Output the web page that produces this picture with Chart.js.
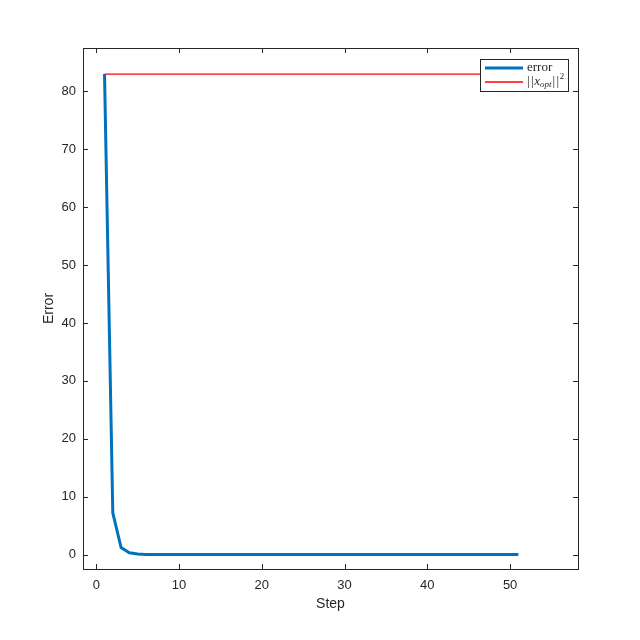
<!DOCTYPE html>
<html>
<head>
<meta charset="utf-8">
<script src="https://cdn.jsdelivr.net/npm/chart.js@4/dist/chart.umd.min.js"></script>
<style>
  html, body { margin: 0; padding: 0; background: #fff; }
  #wrap { width: 640px; height: 640px; }
</style>
</head>
<body>
<div id="wrap"><canvas id="c" width="640" height="640"></canvas></div>
<script>
const steps = [1, 2, 3, 4, 5, 6, 7, 8, 9, 10, 11, 12, 13, 14, 15, 16, 17, 18, 19, 20,
    21, 22, 23, 24, 25, 26, 27, 28, 29, 30, 31, 32, 33, 34, 35, 36, 37, 38, 39, 40,
    41, 42, 43, 44, 45, 46, 47, 48, 49, 50, 51]
const errorValues = [83.0, 7.2, 1.2, 0.3, 0.08, 0.02, 0.005, 0.001, 0, 0, 0, 0, 0, 0, 0, 0, 0, 0, 0, 0,
    0, 0, 0, 0, 0, 0, 0, 0, 0, 0, 0, 0, 0, 0, 0, 0, 0, 0, 0, 0,
    0, 0, 0, 0, 0, 0, 0, 0, 0, 0, 0]
const refSteps = [1, 51]
const refValues = [83.0, 83.0]
const xTicks = [0, 10, 20, 30, 40, 50]
const yTicks = [0, 10, 20, 30, 40, 50, 60, 70, 80]

const AXIS_COLOR = '#262626'
const TICK_FONT = { family: 'Liberation Sans, Arial, sans-serif', size: 13 }

const toPoints = (xs, ys) => xs.map((x, i) => ({ x, y: ys[i] }))

// MATLAB style box with inward ticks on all four sides
const boxPlugin = {
    id: 'box',
    afterDraw(chart) {
        const { ctx, chartArea: a, scales: { x, y } } = chart
        const len = 5
        ctx.save()
        ctx.strokeStyle = AXIS_COLOR
        ctx.lineWidth = 1
        ctx.strokeRect(a.left + 0.5, a.top + 0.5, a.right - a.left, a.bottom - a.top)
        ctx.beginPath()
        xTicks.forEach(v => {
            const px = Math.round(x.getPixelForValue(v)) + 0.5
            ctx.moveTo(px, a.bottom); ctx.lineTo(px, a.bottom - len)
            ctx.moveTo(px, a.top); ctx.lineTo(px, a.top + len)
        })
        yTicks.forEach(v => {
            const py = Math.round(y.getPixelForValue(v)) + 0.5
            ctx.moveTo(a.left, py); ctx.lineTo(a.left + len, py)
            ctx.moveTo(a.right, py); ctx.lineTo(a.right - len, py)
        })
        ctx.stroke()
        ctx.restore()
    }
}

// legend drawn in the upper right corner, with the LaTeX-like labels
const legendPlugin = {
    id: 'mlegend',
    afterDraw(chart) {
        const { ctx, chartArea: a } = chart
        const ds = chart.data.datasets
        const w = 88, h = 32
        const left = a.right - 98, top = a.top + 11
        ctx.save()
        ctx.fillStyle = '#fff'
        ctx.fillRect(left, top, w, h)
        ctx.strokeStyle = AXIS_COLOR
        ctx.lineWidth = 1
        ctx.strokeRect(left + 0.5, top + 0.5, w, h)

        const rows = [top + 9, top + 23]
        rows.forEach((ry, i) => {
            ctx.beginPath()
            ctx.strokeStyle = ds[i].borderColor
            ctx.lineWidth = ds[i].borderWidth
            ctx.moveTo(left + 5, ry)
            ctx.lineTo(left + 43, ry)
            ctx.stroke()
        })

        ctx.fillStyle = AXIS_COLOR
        ctx.textBaseline = 'middle'
        ctx.textAlign = 'left'
        const tx = left + 47
        ctx.font = '13px "Liberation Serif", "DejaVu Serif", serif'
        ctx.fillText(ds[0].label, tx, rows[0])

        // ||x_opt||^2
        let cx = tx
        const piece = (text, font, dy, gap = 0) => {
            ctx.font = font
            ctx.fillText(text, cx, rows[1] + dy)
            cx += ctx.measureText(text).width + gap
        }
        const roman = '13px "Liberation Serif", serif'
        piece('|', roman, 0, 1.5)
        piece('|', roman, 0, 0.5)
        piece('x', 'italic 13px "Liberation Serif", serif', 0)
        piece('opt', 'italic 9px "Liberation Serif", serif', 3, 1)
        piece('|', roman, 0, 1.5)
        piece('|', roman, 0, 0.5)
        piece('2', '9px "Liberation Serif", serif', -5)
        ctx.restore()
    }
}

new Chart(document.getElementById('c'), {
    type: 'line',
    data: {
        datasets: [
            {
                label: 'error',
                data: toPoints(steps, errorValues),
                borderColor: '#0072BD',
                borderWidth: 3,
                pointRadius: 0,
                tension: 0,
                fill: false
            },
            {
                label: '||x_opt||^2',
                data: toPoints(refSteps, refValues),
                borderColor: '#FF0000',
                borderWidth: 1.3,
                pointRadius: 0,
                tension: 0,
                fill: false
            }
        ]
    },
    options: {
        animation: false,
        responsive: false,
        devicePixelRatio: 1,
        layout: { padding: { top: 48, right: 62, left: 0, bottom: 0 } },
        plugins: {
            legend: { display: false },
            tooltip: { enabled: false }
        },
        scales: {
            x: {
                type: 'linear',
                min: -1.6,
                max: 58.2,
                afterFit: s => { s.height = 71 },
                afterBuildTicks: s => { s.ticks = xTicks.map(v => ({ value: v })) },
                grid: { display: false, drawTicks: false },
                border: { display: false },
                ticks: { color: AXIS_COLOR, font: TICK_FONT, padding: 9, maxRotation: 0 },
                title: {
                    display: true,
                    text: 'Step',
                    color: AXIS_COLOR,
                    font: { family: 'Liberation Sans, Arial, sans-serif', size: 14 },
                    padding: { top: 0, bottom: 27.6 }
                }
            },
            y: {
                type: 'linear',
                min: -2.5,
                max: 87.5,
                afterFit: s => { s.width = 83 },
                afterBuildTicks: s => { s.ticks = yTicks.map(v => ({ value: v })) },
                grid: { display: false, drawTicks: false },
                border: { display: false },
                ticks: { color: AXIS_COLOR, font: TICK_FONT, padding: 7 },
                title: {
                    display: true,
                    text: 'Error',
                    color: AXIS_COLOR,
                    font: { family: 'Liberation Sans, Arial, sans-serif', size: 14 },
                    padding: { top: 40.6, bottom: 0 }
                }
            }
        }
    },
    plugins: [boxPlugin, legendPlugin]
})
</script>
</body>
</html>
